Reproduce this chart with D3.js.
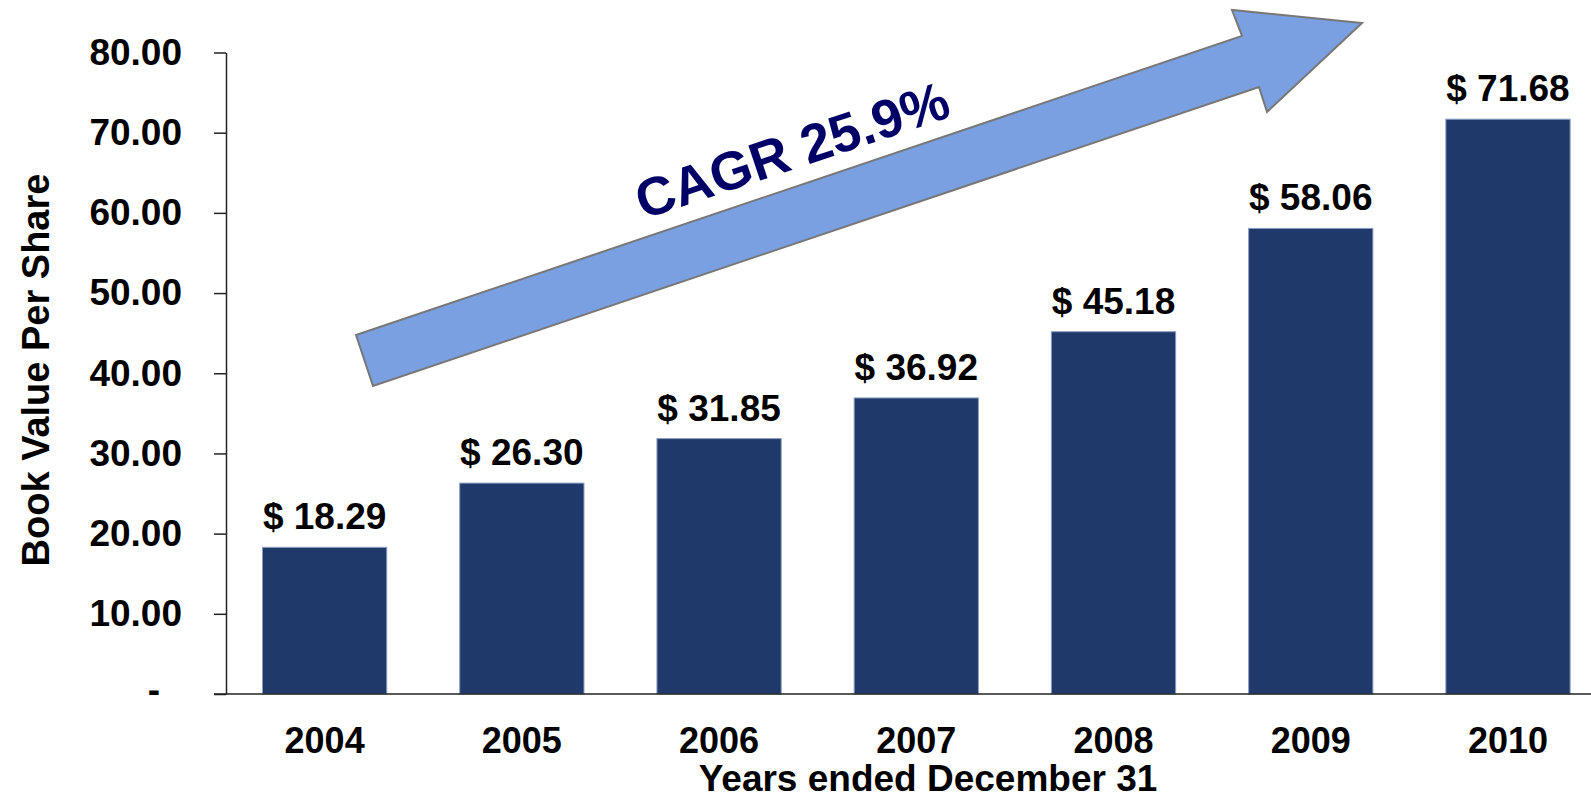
<!DOCTYPE html>
<html>
<head>
<meta charset="utf-8">
<script src="https://cdn.jsdelivr.net/npm/d3@7"></script>
<style>
  body { margin: 0; background: #fff; }
  svg { display: block; font-family: "Liberation Sans", Arial, sans-serif; font-weight: bold; }
</style>
</head>
<body>
<div id="chart"></div>
<script>
const years = ['2004', '2005', '2006', '2007', '2008', '2009', '2010'];
const bookValues = [18.29, 26.30, 31.85, 36.92, 45.18, 58.06, 71.68];
const yTicks = [0, 10, 20, 30, 40, 50, 60, 70, 80];
const cagrLabel = 'CAGR 25.9%';

const width = 1591, height = 801;
const barColor = '#1f3a6a';

const svg = d3.select('#chart')
  .append('svg')
  .attr('width', width)
  .attr('height', height)

const x = d3.scaleBand()
  .domain(years)
  .range([226, 1606.6])
  .paddingInner(0.37)
  .paddingOuter(0.185)

const y = d3.scaleLinear()
  .domain([0, 80])
  .range([694, 52.5])

// growth arrow (drawn behind bars)
const arrowPts = [[356, 335], [1242, 36], [1232, 10], [1362, 23], [1267, 112], [1259, 87], [373, 386]];
svg.append('polygon')
  .attr('points', arrowPts.map(p => p.join(',')).join(' '))
  .attr('fill', '#7ba0e1')
  .attr('stroke', '#777')
  .attr('stroke-width', 2)
  .attr('stroke-linejoin', 'miter')

svg.append('text')
  .attr('transform', 'translate(792,150) rotate(-18.5)')
  .attr('text-anchor', 'middle')
  .attr('dy', '0.35em')
  .attr('fill', '#000066')
  .style('font-size', '54px')
  .text(cagrLabel)

// bars
svg.append('g')
  .selectAll('rect')
  .data(bookValues)
  .enter()
  .append('rect')
  .attr('x', (d, i) => x(years[i]))
  .attr('y', d => y(d))
  .attr('width', x.bandwidth())
  .attr('height', d => y(0) - y(d))
  .attr('fill', barColor)
  .attr('stroke', '#8a9cc4')
  .attr('stroke-width', 1)

// value labels
svg.append('g')
  .selectAll('text')
  .data(bookValues)
  .enter()
  .append('text')
  .attr('x', (d, i) => x(years[i]) + x.bandwidth() / 2)
  .attr('y', d => y(d) - 18)
  .attr('text-anchor', 'middle')
  .style('font-size', '37px')
  .text(d => '$ ' + d.toFixed(2))

// y axis
const yAxis = svg.append('g')
  .attr('transform', 'translate(226,0)')
  .call(d3.axisLeft(y)
    .tickValues(yTicks)
    .tickSize(12)
    .tickSizeOuter(0)
    .tickPadding(32)
    .tickFormat(d => d === 0 ? '-' : d.toFixed(2)))
yAxis.selectAll('text')
  .attr('fill', '#000')
  .style('font-size', '37px')
  .style('font-family', 'inherit')
yAxis.selectAll('text').filter(d => d === 0)
  .attr('x', -72)
  .attr('text-anchor', 'middle')
  .attr('dy', '0.2em')
yAxis.selectAll('line, path').attr('stroke', '#222').attr('stroke-width', 1.5)

// x axis
const xAxis = svg.append('g')
  .attr('transform', 'translate(0,694)')
  .call(d3.axisBottom(x).tickSize(0).tickPadding(33))
xAxis.select('.domain').remove()
xAxis.selectAll('text')
  .attr('fill', '#000')
  .style('font-size', '36px')
  .style('font-family', 'inherit')
svg.append('line')
  .attr('x1', 214)
  .attr('x2', width)
  .attr('y1', y(0))
  .attr('y2', y(0))
  .attr('stroke', '#222')
  .attr('stroke-width', 1.5)

// axis titles
svg.append('text')
  .attr('transform', 'translate(36,370) rotate(-90)')
  .attr('text-anchor', 'middle')
  .attr('dy', '0.35em')
  .style('font-size', '38px')
  .text('Book Value Per Share')

svg.append('text')
  .attr('x', 928)
  .attr('y', 791)
  .attr('text-anchor', 'middle')
  .style('font-size', '37px')
  .text('Years ended December 31')
</script>
</body>
</html>
